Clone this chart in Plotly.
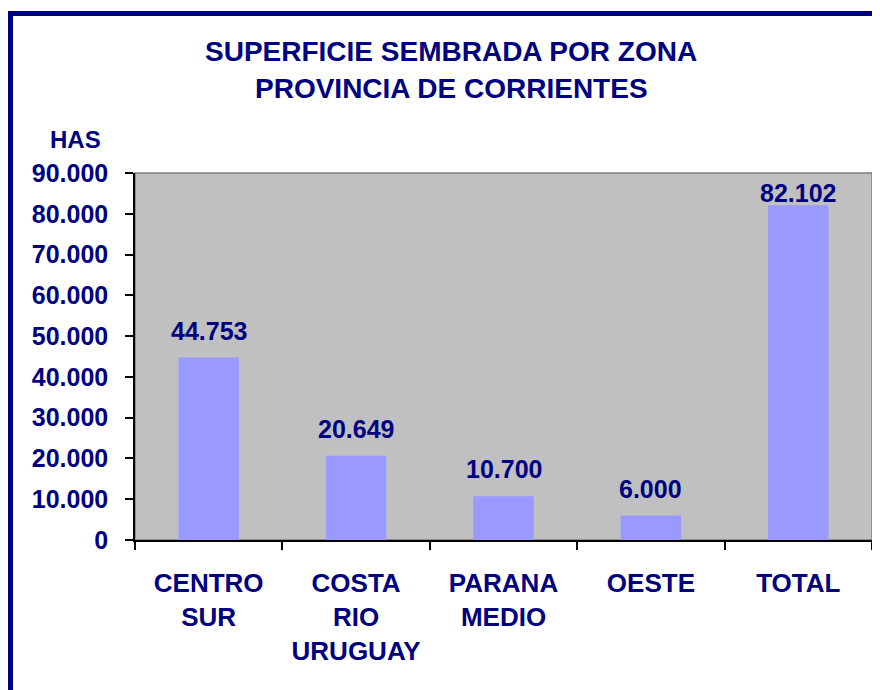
import plotly.graph_objects as go

categories = ["CENTRO<br>SUR", "COSTA<br>RIO<br>URUGUAY", "PARANA<br>MEDIO", "OESTE", "TOTAL"]
values = [44753, 20649, 10700, 6000, 82102]
title_lines = ["SUPERFICIE SEMBRADA POR ZONA", "PROVINCIA DE CORRIENTES"]
y_unit = "HAS"

NAVY = "#000080"
FONT = "Liberation Sans"

# page body has an 8px offset
OFF = 8
W, H = 880, 690
L, R, T, B = 135 - OFF, 880 - 872 + OFF, 173 - OFF, 690 - 540 + OFF
pw, ph = W - L - R, H - T - B
YMAX = 90000

def px(x):
    return (x - OFF - L) / pw

def py(y):
    return (H - B - (y - OFF)) / ph

fig = go.Figure(go.Bar(x=categories, y=values, marker_color="#9999FF", marker_line_width=0, width=0.41))

LABEL_H = 30
for c, v in zip(categories, values):
    bar_top_px = ph * (1 - v / YMAX)  # distance from plot top
    shift = 11
    # keep label inside plot area (Excel-style)
    if bar_top_px - shift - LABEL_H < 6:
        shift = max(bar_top_px - LABEL_H - 6, -5)
    fig.add_annotation(x=c, y=v, xref="x", yref="y", text=f"{v:,}".replace(",", "."),
                       showarrow=False, yanchor="bottom", yshift=shift,
                       font=dict(family=FONT, size=25, color=NAVY, weight="bold"))

for t, yc in zip(title_lines, [52, 88]):
    fig.add_annotation(x=px(451), y=py(yc), xref="paper", yref="paper", text=t, showarrow=False,
                       xanchor="center", yanchor="middle",
                       font=dict(family=FONT, size=28, color=NAVY, weight="bold"))

fig.add_annotation(x=px(75), y=py(140), xref="paper", yref="paper", text=y_unit, showarrow=False,
                   xanchor="center", yanchor="middle",
                   font=dict(family=FONT, size=24, color=NAVY, weight="bold"))

# plot-area gray frame
fig.add_shape(type="rect", xref="paper", yref="paper", x0=0, x1=1, y0=0, y1=1,
              line=dict(color="#808080", width=1.5), layer="below")
# outer navy frame
fig.add_shape(type="rect", xref="paper", yref="paper", x0=px(10.5), x1=px(905), y0=py(720), y1=py(13.5),
              line=dict(color=NAVY, width=5))

fig.update_layout(
    width=W, height=H,
    margin=dict(l=L, r=R, t=T, b=B),
    paper_bgcolor="white", plot_bgcolor="#C0C0C0",
    separators=",.",
    showlegend=False,
    font=dict(family=FONT, size=25, color=NAVY, weight="bold"),
)
fig.update_xaxes(showline=True, linecolor="black", linewidth=1.5, ticks="outside", tickson="boundaries",
                 ticklen=8, tickcolor="black", tickwidth=1.5, showgrid=False,
                 ticklabelstandoff=19,
                 tickfont=dict(family=FONT, size=26, color=NAVY, weight="bold"))
fig.update_yaxes(range=[0, YMAX], dtick=10000, tickformat=",d", showline=True, linecolor="black",
                 linewidth=1.5, ticks="outside", ticklen=8, tickcolor="black", tickwidth=1.5,
                 showgrid=False, zeroline=False, ticklabelstandoff=12,
                 tickfont=dict(family=FONT, size=25, color=NAVY, weight="bold"))

fig.write_html("out.html")
